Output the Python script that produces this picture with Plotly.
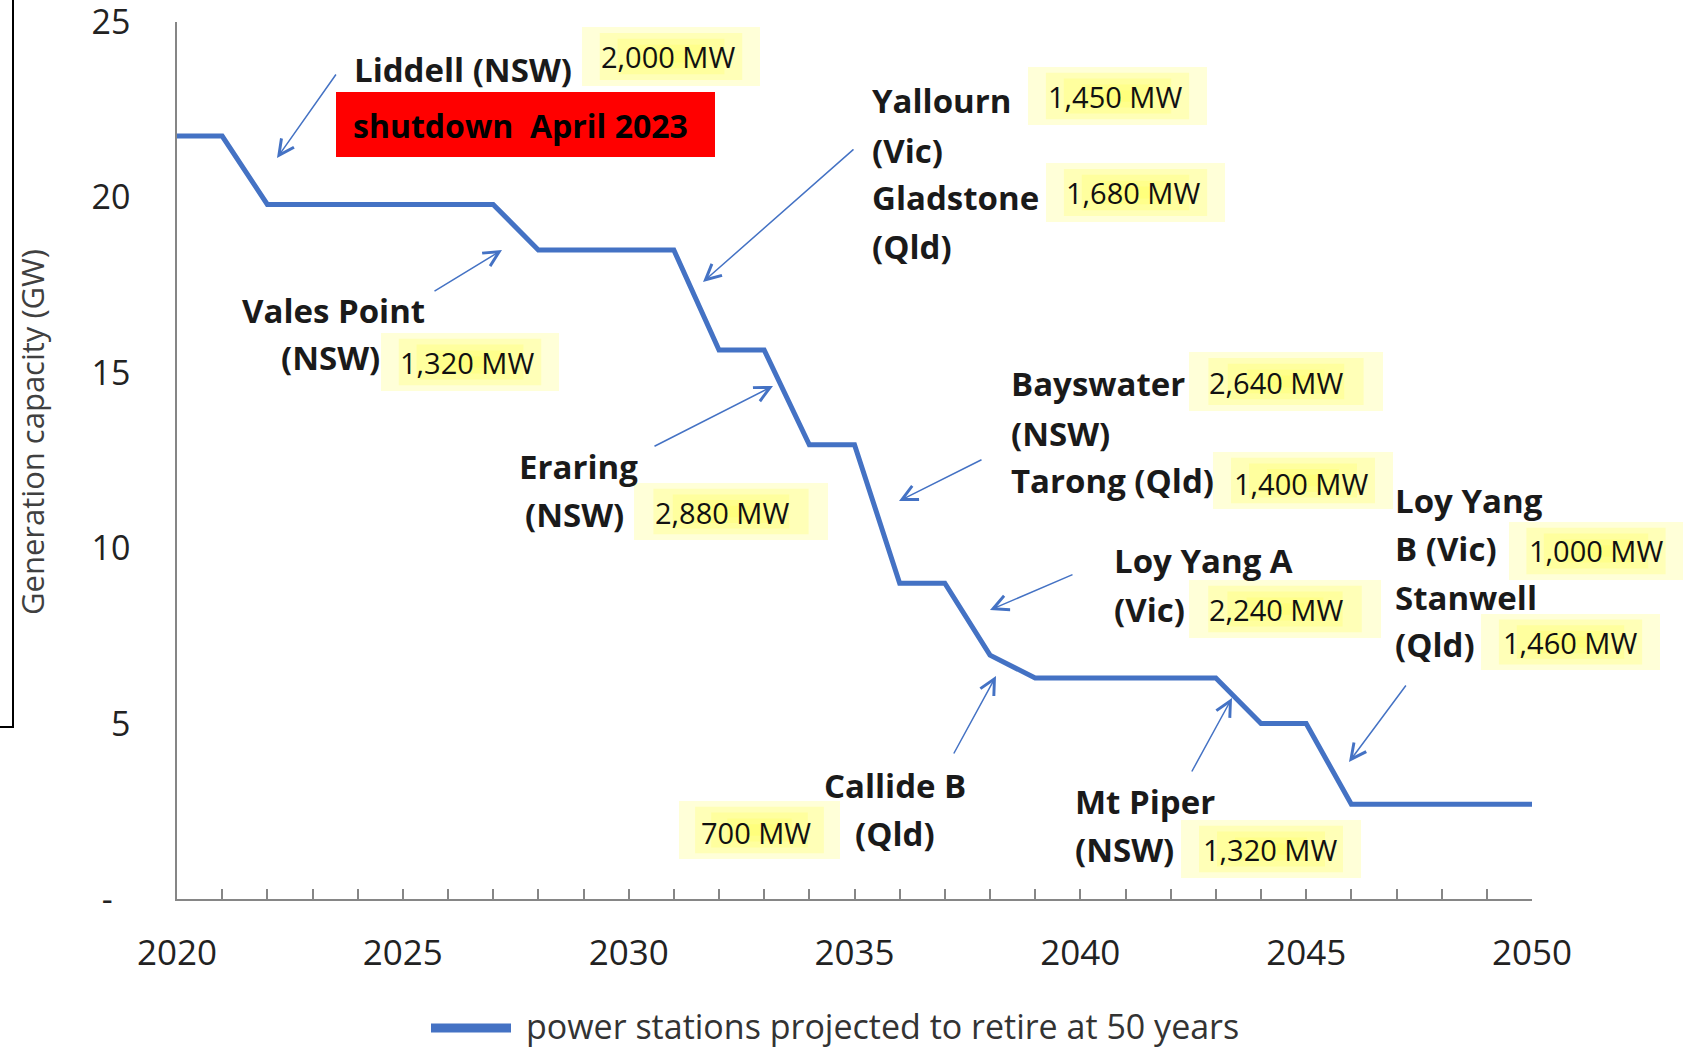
import plotly.graph_objects as go

# ---------------- data ----------------
years = list(range(2020, 2051))
capacity_gw = [21.75, 21.75,
               19.8, 19.8, 19.8, 19.8, 19.8, 19.8,
               18.5, 18.5, 18.5, 18.5,
               15.65, 15.65,
               12.95, 12.95,
               9.0, 9.0,
               6.95,
               6.3, 6.3, 6.3, 6.3, 6.3,
               5.0, 5.0,
               2.7, 2.7, 2.7, 2.7, 2.7]
y_tick_vals = [0, 5, 10, 15, 20, 25]
y_tick_text = ["-\u00a0\u00a0", "5", "10", "15", "20", "25"]
series_name = "power stations projected to retire at 50 years"
y_title = "Generation capacity (GW)"

station_labels = ["Liddell (NSW)", "Yallourn", "(Vic)", "Gladstone", "(Qld)",
                  "Vales Point", "(NSW)", "Eraring", "(NSW)",
                  "Bayswater", "(NSW)", "Tarong (Qld)",
                  "Loy Yang A", "(Vic)", "Loy Yang", "B (Vic)", "Stanwell", "(Qld)",
                  "Callide B", "(Qld)", "Mt Piper", "(NSW)"]
mw_labels = ["2,000 MW", "1,450 MW", "1,680 MW", "1,320 MW", "2,880 MW", "2,640 MW",
             "1,400 MW", "2,240 MW", "1,000 MW", "1,460 MW", "700 MW", "1,320 MW"]
shutdown_label = "shutdown\u00a0 April 2023"

# ---------------- layout helpers (pixel placement of decorations) ----------------
W, H = 1683, 1050
L, R, T, B = 177, 151, 22, 151
PW, PH = W - L - R, H - T - B
BLUE = "#4472C4"
FONT = "Open Sans"


def px(x):
    return (x - L) / PW


def py(y):
    return (H - B - y) / PH


station_pos = [(352, 70), (870, 100), (870, 150), (870, 197), (870, 247),
               (240, 310), (279, 358), (517, 467), (523, 514),
               (1009, 383), (1009, 433), (1009, 480),
               (1112, 560), (1112, 609), (1393, 501), (1393, 548), (1393, 597), (1393, 644),
               (822, 785), (853, 833), (1073, 801), (1073, 849)]
mw_boxes = [(582, 27, 760, 86), (1028, 67, 1207, 125), (1046, 163, 1225, 222),
            (381, 333, 559, 391), (634, 483, 828, 540), (1189, 352, 1383, 411),
            (1213, 452, 1393, 509), (1189, 580, 1381, 638), (1509, 522, 1683, 580),
            (1481, 614, 1660, 670), (679, 801, 840, 859), (1181, 820, 1361, 878)]
mw_text_pos = [(668, 57), (1115, 96), (1133, 193), (467, 363), (722, 512), (1276, 382),
               (1301, 483), (1276, 609), (1596, 550), (1570, 642), (756, 832), (1270, 849)]
arrows = [(337, 73, 277, 158), (433, 292, 502, 250), (855, 148, 703, 282),
          (653, 447, 773, 386), (983, 459, 899, 501), (1074, 574, 990, 610),
          (953, 755, 996, 676), (1191, 773, 1232, 698), (1407, 684, 1349, 762)]

fig = go.Figure()
fig.add_trace(go.Scatter(x=years, y=capacity_gw, mode="lines", name=series_name,
                         line=dict(color=BLUE, width=5), showlegend=False,
                         hoverinfo="x+y"))

shapes = []
annotations = []

# yellow gradient-like boxes
for (x0, y0, x1, y1) in mw_boxes:
    shapes.append(dict(type="rect", xref="paper", yref="paper", x0=px(x0), x1=px(x1),
                       y0=py(y1), y1=py(y0), fillcolor="#FFFFD8", line=dict(width=0),
                       layer="above"))
    w, h = x1 - x0, y1 - y0
    for k in range(1, 5):
        ix, iy = 0.1 * k * w, 0.1 * k * h
        shapes.append(dict(type="rect", xref="paper", yref="paper",
                           x0=px(x0 + ix), x1=px(x1 - ix), y0=py(y1 - iy), y1=py(y0 + iy),
                           fillcolor="rgba(255,255,80,0.24)", line=dict(width=0),
                           layer="above"))

# red shutdown box
shapes.append(dict(type="rect", xref="paper", yref="paper", x0=px(336), x1=px(715),
                   y0=py(157), y1=py(92), fillcolor="#FF0000", line=dict(width=0),
                   layer="above"))

# left border fragment
shapes.append(dict(type="path", xref="paper", yref="paper",
                   path=f"M {px(13)} {py(-2)} L {px(13)} {py(727)} L {px(-2)} {py(727)}",
                   line=dict(color="black", width=2)))

# manual legend
shapes.append(dict(type="line", xref="paper", yref="paper", x0=px(431), x1=px(511),
                   y0=py(1028), y1=py(1028), line=dict(color=BLUE, width=9)))
annotations.append(dict(text=series_name, xref="paper", yref="paper", x=px(524), y=py(1026),
                        xanchor="left", yanchor="middle", showarrow=False,
                        font=dict(family=FONT, size=34, color="#333333")))

# y-axis title
annotations.append(dict(text=y_title, xref="paper", yref="paper", x=px(32), y=py(432),
                        xanchor="center", yanchor="middle", textangle=-90, showarrow=False,
                        font=dict(family=FONT, size=31, color="#404040")))

# station names
for txt, (x, y) in zip(station_labels, station_pos):
    annotations.append(dict(text=f"<b>{txt}</b>", xref="paper", yref="paper", x=px(x), y=py(y),
                            xanchor="left", yanchor="middle", showarrow=False,
                            font=dict(family=FONT, size=33, color="#1a1a1a")))

# MW values
for txt, (x, y) in zip(mw_labels, mw_text_pos):
    annotations.append(dict(text=txt, xref="paper", yref="paper", x=px(x), y=py(y),
                            xanchor="center", yanchor="middle", showarrow=False,
                            font=dict(family=FONT, size=29, color="#111111")))

annotations.append(dict(text=f"<b>{shutdown_label}</b>", xref="paper", yref="paper",
                        x=px(520), y=py(125), xanchor="center", yanchor="middle",
                        showarrow=False, font=dict(family=FONT, size=32, color="#000000")))

# arrows
for (tx, ty, hx, hy) in arrows:
    annotations.append(dict(text="", xref="paper", yref="paper", x=px(hx), y=py(hy),
                            ax=tx - hx, ay=ty - hy, axref="pixel", ayref="pixel",
                            showarrow=True, arrowhead=5, arrowsize=2, arrowwidth=1.5,
                            arrowcolor=BLUE, standoff=0, startstandoff=0))

fig.update_layout(
    template="none",
    width=W, height=H, autosize=False,
    margin=dict(l=L, r=R, t=T, b=B, pad=0),
    paper_bgcolor="white", plot_bgcolor="white",
    font=dict(family=FONT, color="#222222"),
    showlegend=False,
    shapes=shapes,
    annotations=annotations,
    xaxis=dict(range=[2020, 2050], tickmode="linear", tick0=2020, dtick=5,
               ticks="inside", ticklen=10, tickwidth=1.5, tickcolor="#868686",
               minor=dict(dtick=1, tick0=2020, ticks="inside", ticklen=10, tickwidth=1.5,
                          tickcolor="#868686", showgrid=False),
               showline=True, linecolor="#868686", linewidth=2,
               showgrid=False, zeroline=False, automargin=False,
               tickfont=dict(family=FONT, size=35, color="#222222"),
               ticklabelstandoff=22, ticklabeloverflow="allow"),
    yaxis=dict(range=[0, 25], tickmode="array", tickvals=y_tick_vals, ticktext=y_tick_text,
               ticks="", showline=True, linecolor="#868686", linewidth=1.5,
               showgrid=False, zeroline=False, automargin=False,
               tickfont=dict(family=FONT, size=34, color="#222222"),
               ticklabelstandoff=38, ticklabeloverflow="allow"),
)

fig.write_html("out.html", config={"displayModeBar": False},
               post_script="document.body.style.margin='0px';document.body.style.overflow='hidden';")
